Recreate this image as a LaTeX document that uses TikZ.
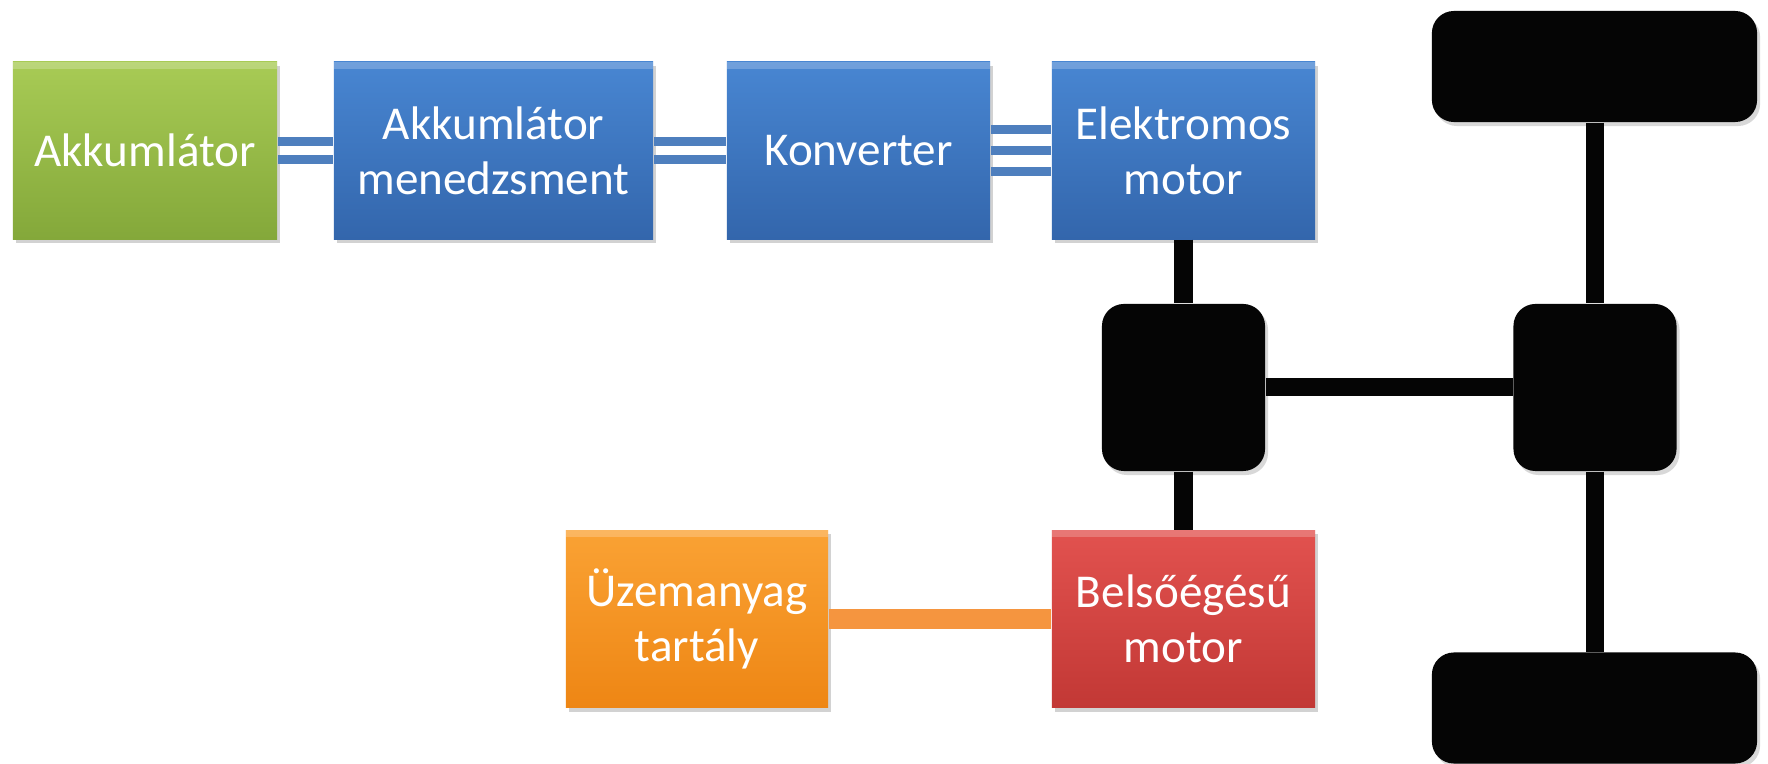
\documentclass[tikz,border=0pt]{standalone}
\usepackage{fontspec}
\setmainfont{Carlito}
\usetikzlibrary{shadows}
\definecolor{grnTop}{HTML}{A8CB55}
\definecolor{grnBot}{HTML}{84A83A}
\definecolor{bluTop}{HTML}{4886D2}
\definecolor{bluBot}{HTML}{3366AC}
\definecolor{orgTop}{HTML}{FAA234}
\definecolor{orgBot}{HTML}{EE8614}
\definecolor{redTop}{HTML}{E2524F}
\definecolor{redBot}{HTML}{C23835}
\definecolor{linkBlue}{HTML}{4E7FBE}
\definecolor{linkOrange}{HTML}{F5953F}
\definecolor{chassis}{HTML}{050505}
\newfontfamily\labelfont{Carlito}
\tikzset{
  unitbox/.style={rectangle, inner sep=0pt, align=center, text=white,
    font=\labelfont\fontsize{13.4}{15.6}\selectfont,
    minimum height=1.77cm, minimum width=2.63cm,
    drop shadow={shadow xshift=0.03cm, shadow yshift=-0.04cm, opacity=0.35},
    path picture={\fill[white,opacity=0.22]
      (path picture bounding box.north west) rectangle
      ([yshift=-0.07cm]path picture bounding box.north east);}},
  greenbox/.style={unitbox, top color=grnTop, bottom color=grnBot},
  bluebox/.style={unitbox, top color=bluTop, bottom color=bluBot},
  orangebox/.style={unitbox, top color=orgTop, bottom color=orgBot},
  redbox/.style={unitbox, top color=redTop, bottom color=redBot},
  blackpart/.style={rectangle, rounded corners=0.22cm, fill=chassis,
    inner sep=0pt,
    drop shadow={shadow xshift=0.03cm, shadow yshift=-0.04cm, opacity=0.3}},
  hub/.style={blackpart, minimum width=1.63cm, minimum height=1.67cm},
  wheel/.style={blackpart, minimum width=3.25cm, minimum height=1.11cm},
  buslink/.style={draw=linkBlue, line width=0.09cm},
  fuellink/.style={draw=linkOrange, line width=0.2cm},
  shaft/.style={draw=chassis, line width=0.18cm},
}
\begin{document}
\begin{tikzpicture}[x=0.01cm, y=-0.01cm]
  \fill[white] (0,0) rectangle (1768,764);
  \useasboundingbox (0,0) rectangle (1768,764);

  % power chain
  \node[greenbox, minimum width=2.64cm] (akk) at (145,150.5) {Akkumlátor};
  \node[bluebox, minimum width=3.19cm] (bms) at (493.5,150.5) {Akkumlátor\\menedzsment};
  \node[bluebox] (conv) at (858.5,150.5) {Konverter};
  \node[bluebox] (emot) at (1183.5,150.5) {Elektromos\\motor};
  \node[orangebox, minimum width=2.62cm] (tank) at (697,619) {Üzemanyag\\tartály};
  \node[redbox] (ice) at (1183.5,619) {Belsőégésű\\motor};

  % drivetrain
  \node[wheel] (wtop) at (1594.5,66.5) {};
  \node[wheel] (wbot) at (1594.5,708) {};
  \node[hub] (dfront) at (1183.5,387.5) {};
  \node[hub] (drear) at (1595,387.5) {};

  % electrical links
  \draw[buslink] ([yshift=0.09cm]akk.east) -- ([yshift=0.09cm]bms.west);
  \draw[buslink] ([yshift=-0.09cm]akk.east) -- ([yshift=-0.09cm]bms.west);
  \draw[buslink] ([yshift=0.09cm]bms.east) -- ([yshift=0.09cm]conv.west);
  \draw[buslink] ([yshift=-0.09cm]bms.east) -- ([yshift=-0.09cm]conv.west);
  \draw[buslink] ([yshift=0.21cm]conv.east) -- ([yshift=0.21cm]emot.west);
  \draw[buslink] (conv.east) -- (emot.west);
  \draw[buslink] ([yshift=-0.21cm]conv.east) -- ([yshift=-0.21cm]emot.west);

  % fuel line
  \draw[fuellink] (tank.east) -- (ice.west);

  % mechanical shafts
  \draw[shaft] (emot.south) -- (dfront.north);
  \draw[shaft] (dfront.south) -- (ice.north);
  \draw[shaft] (dfront.east) -- (drear.west);
  \draw[shaft] (wtop.south -| drear.north) -- (drear.north);
  \draw[shaft] (drear.south) -- (wbot.north -| drear.south);
\end{tikzpicture}
\end{document}
